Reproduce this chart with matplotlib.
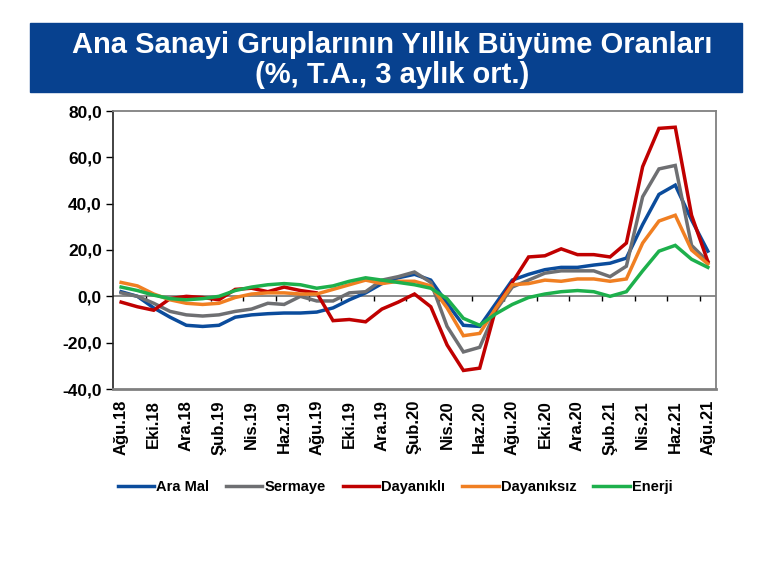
import numpy as np
import matplotlib.pyplot as plt
from matplotlib.patches import Rectangle

plt.rcParams['font.family'] = ['Liberation Sans', 'DejaVu Sans']

# aylar: Ağu.18 - Ağu.21
months = ['Ağu.18', 'Eyl.18', 'Eki.18', 'Kas.18', 'Ara.18', 'Oca.19', 'Şub.19', 'Mar.19',
          'Nis.19', 'May.19', 'Haz.19', 'Tem.19', 'Ağu.19', 'Eyl.19', 'Eki.19', 'Kas.19',
          'Ara.19', 'Oca.20', 'Şub.20', 'Mar.20', 'Nis.20', 'May.20', 'Haz.20', 'Tem.20',
          'Ağu.20', 'Eyl.20', 'Eki.20', 'Kas.20', 'Ara.20', 'Oca.21', 'Şub.21', 'Mar.21',
          'Nis.21', 'May.21', 'Haz.21', 'Tem.21', 'Ağu.21']

ara_mal = [2, 0, -5, -9, -12.5, -13, -12.5, -9, -8, -7.5, -7.2, -7.2, -6.8, -5, -1.5, 1.5,
           5.5, 8, 9.5, 7, -3, -12.5, -13, -3, 7, 9.5, 11.5, 12.5, 12.5, 13.5, 14.3, 16.5,
           31, 44, 48, 33, 19.5]
sermaye = [1.5, 0, -3, -6.5, -8, -8.5, -8, -6.5, -5.5, -3, -3.5, 0, -2, -2, 1.5, 2,
           7, 8.5, 10.5, 6, -13, -24, -22, -6, 4, 7, 10, 11, 11, 11, 8.5, 13,
           43, 55, 56.5, 22, 15]
dayanikli = [-2.5, -4.5, -6, -1, 0, -0.5, -1.5, 3, 3.5, 2, 4, 2.5, 1.5, -10.5, -10, -11,
             -5.5, -2.5, 1, -4.5, -21, -32, -31, -5, 6, 17, 17.5, 20.5, 18, 18, 17, 23,
             56, 72.5, 73, 35, 15]
dayaniksiz = [6, 4.5, 1, -1.5, -3, -3.5, -3, -0.5, 1, 1.5, 1.5, 1, 1, 3, 5, 7,
              5.5, 6.5, 6.5, 4.5, -5, -17, -16, -5, 5, 5.5, 7, 6.5, 7.5, 7.5, 6.5, 7.5,
              23, 32.5, 35, 20, 14]
enerji = [4, 2.5, 0.5, -1, -1.5, -1, 0, 2.5, 4, 5, 5.5, 5, 3.5, 4.5, 6.5, 8,
          7, 6, 5, 3.5, -1, -9.5, -12.5, -7.5, -3.5, -0.5, 1, 2, 2.5, 2, 0, 2,
          11, 19.5, 22, 16, 12.5]

series = [('Ara Mal', ara_mal, '#0B4C9C'),
          ('Sermaye', sermaye, '#6E6F72'),
          ('Dayanıklı', dayanikli, '#C00000'),
          ('Dayanıksız', dayaniksiz, '#F07F22'),
          ('Enerji', enerji, '#1DB04C')]

fig = plt.figure(figsize=(7.68, 5.82), dpi=100)

# baslik kutusu
fig.patches.append(Rectangle((30 / 768, 1 - 92 / 582), 712 / 768, 69 / 582,
                             transform=fig.transFigure, color='#07418F', zorder=0))
fig.text(392 / 768, 1 - 45 / 582, 'Ana Sanayi Gruplarının Yıllık Büyüme Oranları',
         color='white', fontsize=21, fontweight='bold', ha='center', va='center')
fig.text(392 / 768, 1 - 75 / 582, '(%, T.A., 3 aylık ort.)',
         color='white', fontsize=21, fontweight='bold', ha='center', va='center')

ax = fig.add_axes([113 / 768, 1 - 389 / 582, 603 / 768, 278 / 582])
x = np.arange(len(months))
for name, vals, col in series:
    ax.plot(x, vals, color=col, lw=2.5, label=name, solid_joinstyle='miter')

ax.set_xlim(-0.5, len(months) - 0.5)
ax.set_ylim(-40, 80)
yt = np.arange(-40, 81, 20)
ax.set_yticks(yt)
ax.set_yticklabels([f'{v:.1f}'.replace('.', ',') for v in yt],
                   fontsize=12.5, fontweight='bold')
ax.tick_params(axis='y', length=5, width=1, pad=3)

ax.set_xticks(x[::2])
ax.set_xticklabels(months[::2], rotation=90, fontsize=12, fontweight='bold')
ax.tick_params(axis='x', length=0, pad=8)

# sifir cizgisi ve kucuk isaretler
ax.axhline(0, color='#808080', lw=1.3, zorder=1)
ax.vlines(np.arange(1.5, len(months) - 1, 2), -2, 0, color='black', lw=1, zorder=1)

for s in ['top', 'right', 'bottom']:
    ax.spines[s].set_color('#808080')
    ax.spines[s].set_linewidth(1.3)
ax.spines['bottom'].set_linewidth(2)
ax.spines['left'].set_color('#222222')
ax.spines['left'].set_linewidth(1.2)

fig.legend(loc='center', bbox_to_anchor=(395 / 768, 1 - 487 / 582), ncol=5,
           frameon=False, handlelength=2.5, handletextpad=0.15, columnspacing=1.15,
           prop={'size': 10.5, 'weight': 'bold'})

fig.savefig('out.png', dpi=100)
